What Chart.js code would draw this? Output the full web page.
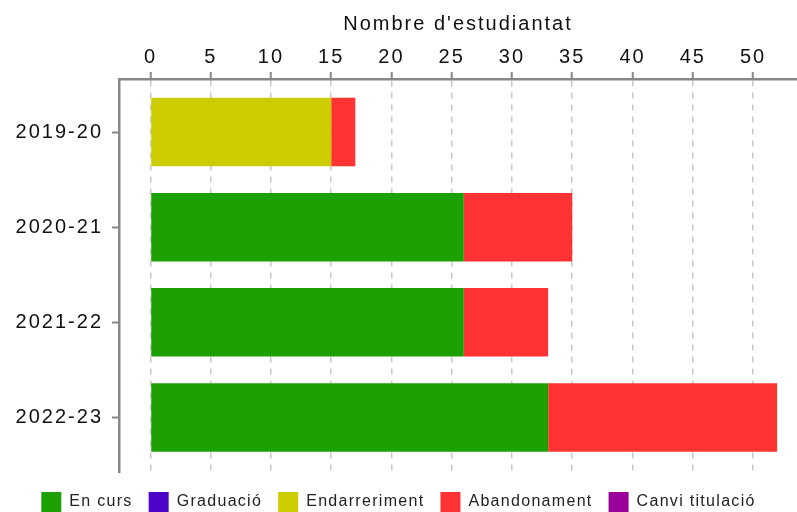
<!DOCTYPE html>
<html>
<head>
<meta charset="utf-8">
<script src="https://cdn.jsdelivr.net/npm/chart.js@4"></script>
<style>
    html, body { margin: 0; padding: 0; background: #fff; }
    #wrap { width: 797px; height: 512px; }
</style>
</head>
<body>
<div id="wrap"><canvas id="chart-bar"></canvas></div>
<script>
// dades del gràfic
const cursos = ['2019-20', '2020-21', '2021-22', '2022-23'];
const enCurs = [0, 26, 26, 33];
const graduacio = [0, 0, 0, 0];
const endarreriment = [15, 0, 0, 0];
const abandonament = [2, 9, 7, 19];
const canviTitulacio = [0, 0, 0, 0];
const xTicks = [0, 5, 10, 15, 20, 25, 30, 35, 40, 45, 50];

const fontFamily = "'Liberation Sans', Arial, sans-serif";

function toPoints(values) {
    return values.map((v, i) => ({ x: v, y: i }));
}

// espaiat de lletres com a l'original + llegenda una mica més avall
const letterSpacingPlugin = {
    id: 'letterSpacing',
    beforeInit(chart) {
        const ctx = chart.ctx;
        const setSpacing = () => {
            ctx.letterSpacing = ctx.font.indexOf('16px') !== -1 ? '1.3px' : '2px';
        };
        const measure = ctx.measureText;
        ctx.measureText = function(text) {
            setSpacing();
            return measure.call(this, text);
        };
        const fill = ctx.fillText;
        ctx.fillText = function(...args) {
            setSpacing();
            return fill.apply(this, args);
        };
    },
    afterInit(chart) {
        const legend = chart.legend;
        const fit = legend.fit.bind(legend);
        legend.fit = function() {
            fit();
            this.height = 40;
        };
        const draw = legend.draw.bind(legend);
        legend.draw = function() {
            chart.ctx.save();
            chart.ctx.translate(0, 4);
            draw();
            chart.ctx.restore();
        };
    }
};

function createChart() {
    const ctx = document.getElementById('chart-bar');

    new Chart(ctx, {
        type: 'bar',
        data: {
            datasets: [
                { label: 'En curs', data: toPoints(enCurs), backgroundColor: '#1da102' },
                { label: 'Graduació', data: toPoints(graduacio), backgroundColor: '#4d05c9' },
                { label: 'Endarreriment', data: toPoints(endarreriment), backgroundColor: '#cccc00' },
                { label: 'Abandonament', data: toPoints(abandonament), backgroundColor: '#ff3333' },
                { label: 'Canvi titulació', data: toPoints(canviTitulacio), backgroundColor: '#990099' }
            ]
        },
        options: {
            indexAxis: 'y',
            responsive: true,
            maintainAspectRatio: false,
            animation: false,
            datasets: {
                bar: {
                    borderWidth: 0,
                    barPercentage: 0.72,
                    categoryPercentage: 1
                }
            },
            layout: {
                padding: 0
            },
            plugins: {
                legend: {
                    position: 'bottom',
                    labels: {
                        boxWidth: 20,
                        boxHeight: 20,
                        padding: 16,
                        color: '#222',
                        font: { family: fontFamily, size: 16 }
                    }
                },
                tooltip: { enabled: false }
            },
            scales: {
                x: {
                    type: 'linear',
                    position: 'top',
                    stacked: true,
                    min: -2.61,
                    max: 53.65,
                    afterBuildTicks: function(scale) {
                        scale.ticks = xTicks.map(v => ({ value: v }));
                    },
                    afterFit: function(scale) {
                        scale.height = 79;
                    },
                    title: {
                        display: true,
                        text: "Nombre d'estudiantat",
                        color: '#111',
                        font: { family: fontFamily, size: 20 },
                        padding: { top: 12, bottom: 0 }
                    },
                    ticks: {
                        color: '#111',
                        padding: 3,
                        font: { family: fontFamily, size: 20 }
                    },
                    grid: {
                        color: '#c8c8c8',
                        lineWidth: 1.5,
                        tickLength: 7,
                        tickColor: '#888',
                        tickWidth: 2
                    },
                    border: {
                        color: '#888',
                        width: 2.5,
                        dash: [6, 6]
                    }
                },
                y: {
                    type: 'linear',
                    reverse: true,
                    stacked: true,
                    offset: false,
                    min: -0.557,
                    max: 3.573,
                    afterBuildTicks: function(scale) {
                        scale.ticks = cursos.map((c, i) => ({ value: i }));
                    },
                    afterFit: function(scale) {
                        scale.width = 119;
                    },
                    ticks: {
                        color: '#111',
                        padding: 9,
                        font: { family: fontFamily, size: 20 },
                        callback: function(value) {
                            return cursos[value];
                        }
                    },
                    grid: {
                        offset: false,
                        drawOnChartArea: false,
                        tickLength: 7,
                        tickColor: '#888',
                        tickWidth: 2
                    },
                    border: {
                        color: '#888',
                        width: 2.5
                    }
                }
            }
        },
        plugins: [letterSpacingPlugin]
    });
}

createChart();
</script>
</body>
</html>
